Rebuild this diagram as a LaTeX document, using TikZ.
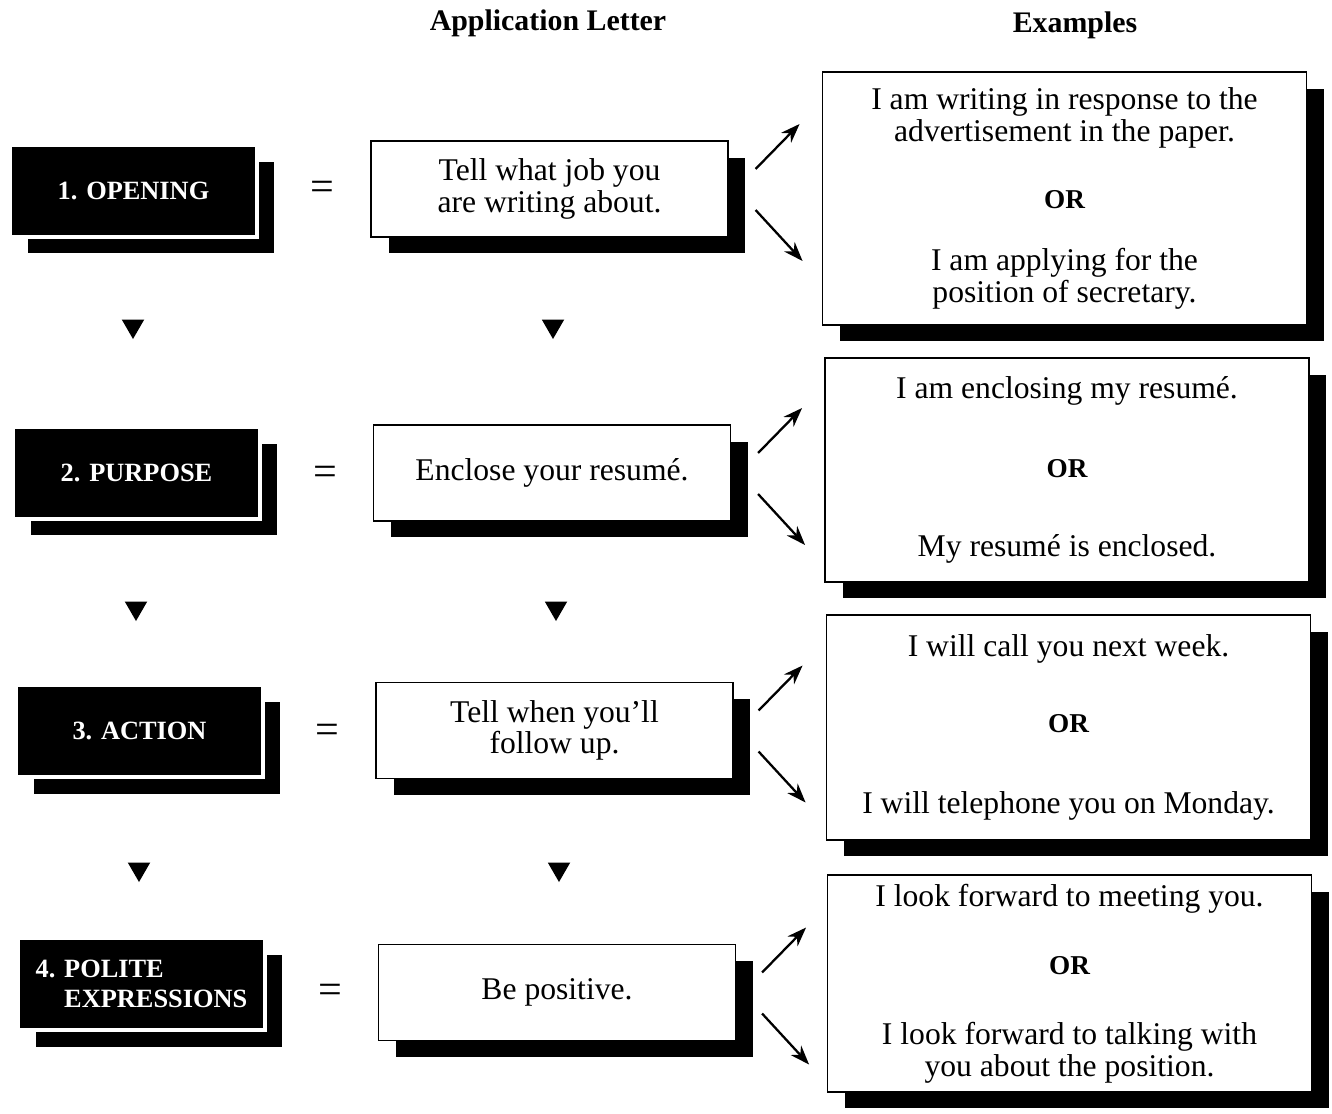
\documentclass[tikz,border=0pt]{standalone}
\usepackage{fontspec}
\setmainfont{Liberation Serif}
\usetikzlibrary{shadows,shapes.geometric,arrows.meta}

\newcommand{\fork}[1]{\draw[fork] ([shift={(0,-20)}]#1) -- ++(44,-45); \draw[fork] ([shift={(0,21)}]#1) -- ++(47,51);}
\newcommand{\orline}{{\fontsize{15.5}{18}\selectfont\bfseries OR}}

\tikzset{
  box shadow/.style = {drop shadow = {shadow xshift = 0.35cm, shadow yshift = -0.33cm, fill = black, opacity = 1}},
  stage/.style = {fill = black, draw = white, line width = 2.5pt, text = white, font = \fontsize{15}{17}\selectfont\bfseries, minimum width = 4.94cm, minimum height = 1.84cm, box shadow},
  task/.style = {fill = white, draw = black, line width = 0.7pt, align = center, font = \fontsize{18}{18}\selectfont, minimum width = 7.14cm, minimum height = 1.92cm, box shadow},
  sample/.style = {fill = white, draw = black, line width = 0.7pt, align = center, font = \fontsize{18}{18}\selectfont, minimum width = 9.68cm, box shadow},
  equal/.style = {font = \fontsize{24}{24}\selectfont},
  tri/.style = {regular polygon, regular polygon sides = 3, shape border rotate = 180, fill = black, inner sep = 0pt, minimum size = 0.52cm},
  fork/.style = {line width = 1.3pt, -{Stealth[length = 11pt, width = 8pt]}},
  heading/.style = {font = \fontsize{17}{18}\selectfont\bfseries}
}

\begin{document}
\begin{tikzpicture}[x = 0.02cm, y = -0.02cm]
\useasboundingbox (0,0) rectangle (1332,1113);
\node[heading] (hletter) at (548,23) {Application Letter};
\node[heading] (hexamples) at (1075,25) {Examples};
% row 1
\node[stage] (s1) at (133.5,191) {1. OPENING};
\node[equal] (e1) at (322,191) {=};
\node[task] (t1) at (549.5,189) {Tell what job you\\are writing about.};
\node[sample, minimum height = 5.06cm] (x1) at (1064.5,198.5) {I am writing in response to the\\advertisement in the paper.\\[20pt]\orline\\[17.5pt]I am applying for the\\position of secretary.};
\coordinate (f1) at ([xshift = 0.54cm]t1.east);
\fork{f1};
\node[tri] (d1a) at (133,326) {};
\node[tri] (d1b) at (553,326) {};
% row 2
\node[stage] (s2) at (136.5,473) {2. PURPOSE};
\node[equal] (e2) at (325,476) {=};
\node[task] (t2) at (552,473) {Enclose your resumé.};
\node[sample, minimum height = 4.48cm] (x2) at (1067,470) {I am enclosing my resumé.\\[27pt]\orline\\[27pt]My resumé is enclosed.};
\coordinate (f2) at ([xshift = 0.54cm]t2.east);
\fork{f2};
\node[tri] (d2a) at (136,608) {};
\node[tri] (d2b) at (556,608) {};
% row 3
\node[stage] (s3) at (139.5,731) {3. ACTION};
\node[equal] (e3) at (327,734) {=};
\node[task] (t3) at (554.5,730.5) {Tell when you'll\\follow up.};
\node[sample, minimum height = 4.5cm] (x3) at (1068.5,727.5) {I will call you next week.\\[25pt]\orline\\[28.5pt]I will telephone you on Monday.};
\coordinate (f3) at ([xshift = 0.5cm]t3.east);
\fork{f3};
\node[tri] (d3a) at (139,869) {};
\node[tri] (d3b) at (559,869) {};
% row 4
\node[stage, align = left] (s4) at (141.5,984) {4. POLITE\\\phantom{4. }EXPRESSIONS};
\node[equal] (e4) at (330,994) {=};
\node[task] (t4) at (557,992.5) {Be positive.};
\node[sample, minimum height = 4.34cm] (x4) at (1069.5,983.5) {I look forward to meeting you.\\[21pt]\orline\\[21.5pt]I look forward to talking with\\you about the position.};
\coordinate (f4) at ([xshift = 0.52cm]t4.east);
\fork{f4};
\end{tikzpicture}
\end{document}
